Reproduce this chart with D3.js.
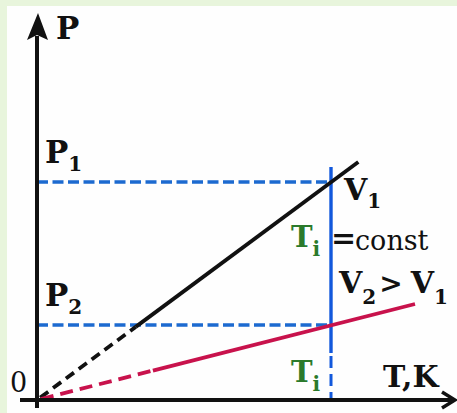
<!DOCTYPE html>
<html><head><meta charset="utf-8">
<script src="https://cdn.jsdelivr.net/npm/d3@7"></script>
<style>html,body{margin:0;padding:0;background:#fff;}svg{display:block;}</style>
</head><body>
<script>
// ---- data (conceptual P–T diagram, arbitrary units) ----
const T_i = 70;                 // isotherm temperature
const pressures = [54.5, 18.75]; // P1, P2
const pressureLabels = ["1", "2"];
const isochoreNames = ["V1", "V2"];
const isochoreEnds = [[76.5, 59.5], [90, 24]];   // end points of the two isochores (start at origin)
const dashedUntil = [23.5, 27.6];                // T where the extrapolated (dashed) part ends
const isoTop = 58.25, isoSolidBottom = 11.75;    // vertical isotherm extent

const W = 457, H = 413;
const x = d3.scaleLinear().domain([0, 100]).range([37, 457]);
const y = d3.scaleLinear().domain([0, 100]).range([400, 0]);

const svg = d3.select("body").append("svg").attr("width", W).attr("height", H);
svg.append("rect").attr("width", W).attr("height", H).attr("fill", "#e8f5dc");
svg.append("rect").attr("x", 7).attr("y", 6).attr("width", W - 7).attr("height", H - 6).attr("fill", "#fefefe");

const serif = "'DejaVu Serif', 'Liberation Serif', serif";
const blueDash = "#1c6ad0", blue = "#1258dc", red = "#c8124c", green = "#2b7a2b", ink = "#111";

// horizontal dashed pressure levels
svg.selectAll("line.plevel").data(pressures).join("line")
  .attr("x1", x(0)).attr("x2", x(T_i))
  .attr("y1", d => y(d)).attr("y2", d => y(d))
  .attr("stroke", blueDash).attr("stroke-width", 3.4).attr("stroke-dasharray", "11,4.5");

// vertical isotherm: solid part + dashed part
svg.append("line").attr("x1", x(T_i)).attr("x2", x(T_i)).attr("y1", y(isoTop)).attr("y2", y(isoSolidBottom))
  .attr("stroke", blue).attr("stroke-width", 3.4);
svg.append("line").attr("x1", x(T_i)).attr("x2", x(T_i)).attr("y1", y(isoSolidBottom)).attr("y2", y(0))
  .attr("stroke", blue).attr("stroke-width", 3).attr("stroke-dasharray", "12,6").attr("stroke-dashoffset", -3);

// isochores
const colors = [ink, red];
isochoreEnds.forEach((e, i) => {
  const k = e[1] / e[0];
  const td = dashedUntil[i];
  svg.append("line").attr("x1", x(0)).attr("y1", y(0)).attr("x2", x(td)).attr("y2", y(td * k))
    .attr("stroke", colors[i]).attr("stroke-width", 3.8)
    .attr("stroke-dasharray", i === 0 ? "10,6" : "13,7").attr("stroke-dashoffset", -4);
  svg.append("line").attr("x1", x(td)).attr("y1", y(td * k)).attr("x2", x(e[0])).attr("y2", y(e[1]))
    .attr("stroke", colors[i]).attr("stroke-width", 3.8);
});

// axes
svg.append("line").attr("x1", x(0)).attr("x2", x(0)).attr("y1", 408).attr("y2", 36)
  .attr("stroke", ink).attr("stroke-width", 4);
svg.append("path").attr("d", `M${x(0) + 1},13 L${x(0) + 11},40 L${x(0)},35 L${x(0) - 10},40 Z`).attr("fill", ink);
svg.append("line").attr("x1", 20).attr("x2", 455).attr("y1", y(0)).attr("y2", y(0))
  .attr("stroke", ink).attr("stroke-width", 4);
svg.append("path").attr("d", `M442,${y(0) - 8} L455,${y(0)} L442,${y(0) + 8}`)
  .attr("fill", "none").attr("stroke", ink).attr("stroke-width", 3.5);

// text helper: parts = [[string, size, dy, fill, weight, dx]]
function label(tx, ty, parts) {
  const t = svg.append("text").attr("x", tx).attr("y", ty).attr("font-family", serif);
  parts.forEach(p => {
    t.append("tspan").text(p[0]).attr("font-size", p[1]).attr("dy", p[2] || 0)
      .attr("fill", p[3] || ink).attr("font-weight", p[4] || "bold").attr("dx", p[5] || 0);
  });
  return t;
}

label(56, 39, [["P", 31]]);
label(10, 392, [["0", 27, 0, ink, "normal"]]);
label(383, 387, [["T,K", 30]]);

pressures.forEach((p, i) => {
  label(45, y(p) - 19, [["P", 31], [pressureLabels[i], 20, 8]]);
});

// V1 label
label(344, 200, [["V", 30], ["1", 20, 8]]);

// Ti = const
label(291, 247, [["T", 29, 0, green], ["i", 20, 9, green]]);
label(331, 248, [["=", 30, 0, ink, "bold"]]);
label(355, 250, [["const", 27, 0, ink, "normal"]]);

// V2 > V1
label(339, 293, [["V", 30], ["2", 20, 11], [">", 28, -11, ink, "bold", 3], ["V", 30, 0, ink, "bold", 8], ["1", 20, 11]]);

// Ti on axis
label(291, 382, [["T", 29, 0, green], ["i", 20, 9, green]]);
</script>
</body></html>
